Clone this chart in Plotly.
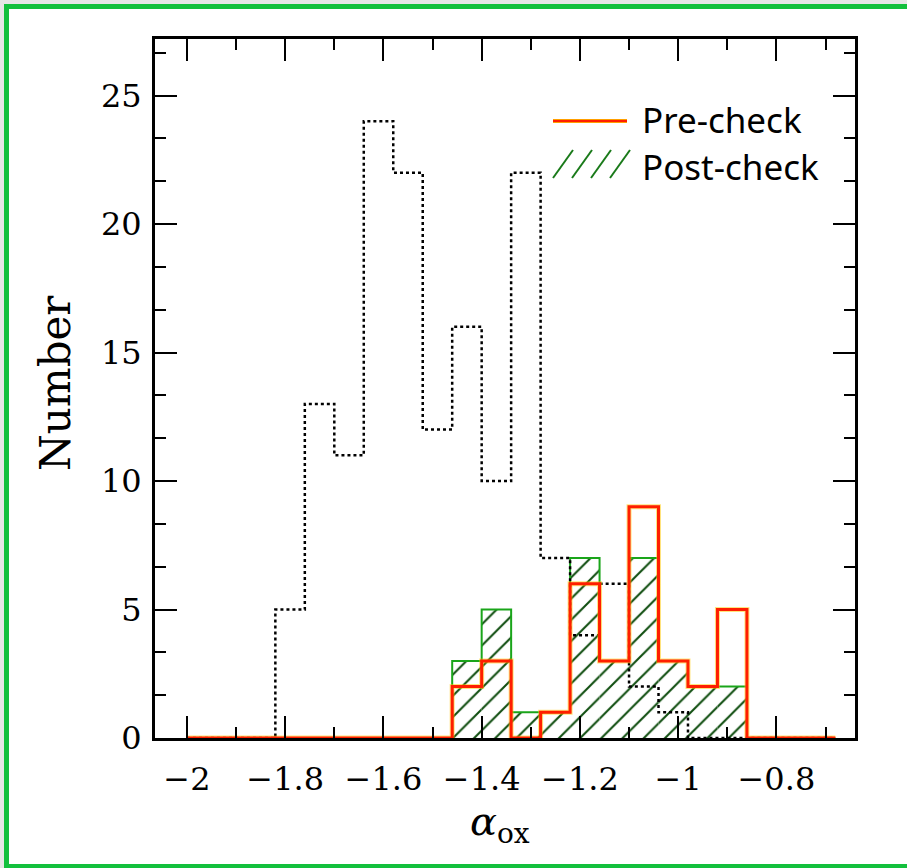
import plotly.graph_objects as go

# ---- data (bins of width 0.06 starting at alpha_ox = -2.0) ----
bin_start = -2.0
bin_width = 0.06
# full sample (dotted)
all_counts = [0, 0, 0, 5, 13, 11, 24, 22, 12, 16, 10, 22, 7, 4, 6, 2, 1, 0, 0, 0, 0, 0]
# pre-check (red)
pre_counts = [0, 0, 0, 0, 0, 0, 0, 0, 0, 2, 3, 0, 1, 6, 3, 9, 3, 2, 5, 0, 0, 0]
# post-check (green hatched)
post_counts = [0, 0, 0, 0, 0, 0, 0, 0, 0, 3, 5, 1, 1, 7, 3, 7, 3, 2, 2, 0, 0, 0]

x_tickvals = [-2, -1.8, -1.6, -1.4, -1.2, -1, -0.8]
y_tickvals = [0, 5, 10, 15, 20, 25]

nb = len(all_counts)
edges = [round(bin_start + bin_width * i, 4) for i in range(nb + 1)]
centers = [round(bin_start + bin_width * (i + 0.5), 4) for i in range(nb)]


def step(counts):
    return edges, list(counts) + [counts[-1]]


W, H = 907, 868
ML, MR, MT, MB = 155, 52, 39, 130
PW, PH = W - ML - MR, H - MT - MB


def px(xp):
    return (xp - ML) / PW


def py(yp):
    return (MT + PH - yp) / PH


fig = go.Figure()

# post-check hatched bars
fig.add_trace(go.Bar(
    x=centers, y=post_counts, width=bin_width,
    marker=dict(color="rgba(0,0,0,0)", line=dict(width=0),
                pattern=dict(shape="/", fgcolor="#104e10", bgcolor="rgba(0,0,0,0)",
                             fgopacity=1, size=15, solidity=0.14)),
    showlegend=False, hoverinfo="skip"))
sx, sy = step(post_counts)
fig.add_trace(go.Scatter(x=sx, y=sy, mode="lines", line=dict(shape="hv", color="#1aa51a", width=2),
                         showlegend=False, hoverinfo="skip"))

# all sample dotted
sx, sy = step(all_counts)
fig.add_trace(go.Scatter(x=sx, y=sy, mode="lines",
                         line=dict(shape="hv", color="black", width=2.5, dash="dot"),
                         showlegend=False, hoverinfo="skip"))

# pre-check red (with faint yellow halo)
sx, sy = step(pre_counts)
fig.add_trace(go.Scatter(x=sx, y=sy, mode="lines", line=dict(shape="hv", color="#ffcc00", width=5),
                         opacity=0.5, showlegend=False, hoverinfo="skip"))
fig.add_trace(go.Scatter(x=sx, y=sy, mode="lines", line=dict(shape="hv", color="#ff1e00", width=3),
                         showlegend=False, hoverinfo="skip"))

tickfont = dict(family="DejaVu Serif", size=32, color="black")

fig.update_xaxes(
    range=[-2.065, -0.64], tickmode="array", tickvals=x_tickvals,
    ticktext=[("\u2212" + str(abs(v)).rstrip("0").rstrip(".")) if v < 0 else str(v) for v in x_tickvals],
    ticks="inside", ticklen=22, tickwidth=2, tickcolor="black",
    minor=dict(dtick=0.1, tick0=-2, ticks="inside", ticklen=11, tickwidth=1.5, tickcolor="black"),
    showline=True, linewidth=3, linecolor="black", mirror="ticks",
    showgrid=False, zeroline=False, tickfont=tickfont, ticklabelstandoff=11)
fig.update_yaxes(
    range=[0, 27.2], tickmode="array", tickvals=y_tickvals,
    ticks="inside", ticklen=22, tickwidth=2, tickcolor="black",
    minor=dict(dtick=5 / 3, tick0=0, ticks="inside", ticklen=11, tickwidth=1.5, tickcolor="black"),
    showline=True, linewidth=3, linecolor="black", mirror="ticks",
    showgrid=False, zeroline=False, tickfont=tickfont, ticklabelstandoff=4)

green = "#13c03d"
shapes = [
    # white page panel
    dict(type="rect", xref="paper", yref="paper", x0=px(6.5), x1=px(907), y0=py(866), y1=py(6.5),
         line=dict(width=0), fillcolor="white", layer="below"),
    # outer green frame: left, top, bottom (right side lies beyond the page edge)
    dict(type="line", xref="paper", yref="paper", x0=px(6.5), x1=px(6.5), y0=py(868), y1=py(4),
         line=dict(color=green, width=5), layer="below"),
    dict(type="line", xref="paper", yref="paper", x0=px(4), x1=px(907), y0=py(6.5), y1=py(6.5),
         line=dict(color=green, width=5), layer="below"),
    dict(type="line", xref="paper", yref="paper", x0=px(4), x1=px(907), y0=py(866), y1=py(866),
         line=dict(color=green, width=4), layer="below"),
    # legend: red line
    dict(type="line", xref="paper", yref="paper", x0=px(553), x1=px(627), y0=py(121), y1=py(121),
         line=dict(color="#ffcc00", width=4)),
    dict(type="line", xref="paper", yref="paper", x0=px(553), x1=px(627), y0=py(121), y1=py(121),
         line=dict(color="#ff1e00", width=2.5)),
]
# legend hatch strokes
for i in range(4):
    x0 = 553 + 19 * i
    shapes.append(dict(type="line", xref="paper", yref="paper",
                       x0=px(x0), y0=py(178), x1=px(x0 + 20), y1=py(150),
                       line=dict(color="#1a7a1a", width=2)))

annotations = [
    dict(text="Pre-check", xref="paper", yref="paper", x=px(641), y=py(119), xanchor="left",
         yanchor="middle", showarrow=False, borderpad=0,
         font=dict(family="Noto Sans", size=35, color="black")),
    dict(text="Post-check", xref="paper", yref="paper", x=px(641), y=py(166), xanchor="left",
         yanchor="middle", showarrow=False, borderpad=0,
         font=dict(family="Noto Sans", size=35, color="black")),
    dict(text="Number", xref="paper", yref="paper", x=px(55), y=py(383), textangle=-90,
         xanchor="center", yanchor="middle", showarrow=False,
         font=dict(family="DejaVu Serif", size=42, color="black")),
    dict(text="<i>\u03b1</i><sub>ox</sub>", xref="paper", yref="paper", x=px(500), y=py(824),
         xanchor="center", yanchor="middle", showarrow=False,
         font=dict(family="DejaVu Serif", size=40, color="black")),
]

fig.update_layout(
    width=W, height=H, margin=dict(l=ML, r=MR, t=MT, b=MB, autoexpand=False),
    paper_bgcolor="#e6e6e6", plot_bgcolor="white", barmode="overlay",
    shapes=shapes, annotations=annotations, showlegend=False)

fig.write_html("out.html")
